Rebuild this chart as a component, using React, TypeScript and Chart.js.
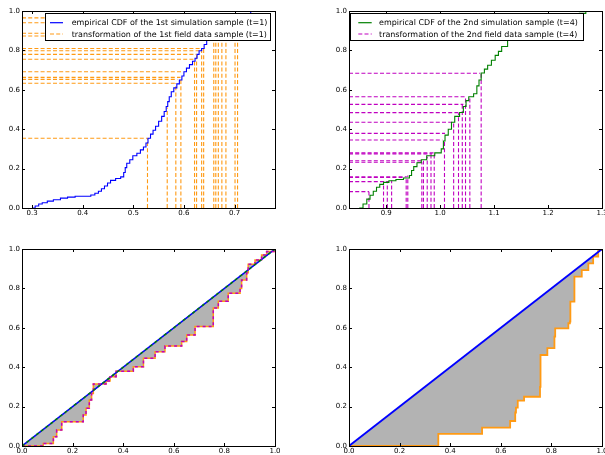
import React, { useEffect, useRef } from "react";
import { Chart, registerables } from "chart.js";

Chart.register(...registerables);

const FONT = "'DejaVu Sans', sans-serif";
const BLUE = "#0000ff";
const ORANGE = "#ff9a14";
const GREEN = "#008000";
const MAGENTA = "#c000c0";
const GRAY = "#b3b3b3";

// ---------------- Top-left: 1st simulation sample ECDF + field transformation
const sim1X = [0.300, 0.306, 0.313, 0.320, 0.330, 0.342, 0.356, 0.370, 0.385, 0.416, 0.424, 0.431, 0.437, 0.443, 0.449, 0.455, 0.465, 0.475, 0.481, 0.484, 0.487, 0.493, 0.499, 0.507, 0.514, 0.520, 0.525, 0.529, 0.534, 0.539, 0.544, 0.550, 0.556, 0.561, 0.565, 0.568, 0.571, 0.575, 0.580, 0.586, 0.591, 0.596, 0.600, 0.605, 0.611, 0.617, 0.622, 0.626, 0.630, 0.635, 0.640, 0.645, 0.652, 0.662, 0.675, 0.690, 0.705, 0.720, 0.732, 0.742];
const sim1Y = [0.000, 0.010, 0.020, 0.027, 0.035, 0.042, 0.050, 0.055, 0.060, 0.066, 0.075, 0.085, 0.098, 0.112, 0.127, 0.140, 0.150, 0.158, 0.180, 0.205, 0.227, 0.245, 0.265, 0.278, 0.295, 0.310, 0.330, 0.354, 0.375, 0.395, 0.415, 0.440, 0.465, 0.490, 0.515, 0.540, 0.565, 0.590, 0.610, 0.630, 0.650, 0.670, 0.692, 0.710, 0.728, 0.745, 0.760, 0.780, 0.798, 0.810, 0.830, 0.850, 0.870, 0.890, 0.910, 0.935, 0.960, 0.980, 1.000, 1.000];
const field1VertX = [0.528, 0.567, 0.584, 0.594, 0.621, 0.625, 0.635, 0.639, 0.659, 0.663, 0.668, 0.675, 0.683, 0.701, 0.706];
const field1VertTop = [0.354, 0.510, 0.633, 0.663, 0.755, 0.780, 0.810, 0.820, 0.880, 0.890, 0.900, 0.910, 0.930, 0.960, 0.970];
const field1HorizY = [0.354, 0.633, 0.653, 0.663, 0.692, 0.755, 0.780, 0.798, 0.810, 0.873, 0.887, 0.940, 0.965];
const field1HorizEnd = [0.528, 0.582, 0.587, 0.593, 0.598, 0.621, 0.625, 0.630, 0.635, 0.659, 0.663, 0.690, 0.706];
const tlXRange = [0.28, 0.78];
const tlXTicks = [0.3, 0.4, 0.5, 0.6, 0.7];
const tlLegend = ["empirical CDF of the 1st simulation sample (t=1)", "transformation of the 1st field data sample (t=1)"];

// ---------------- Top-right: 2nd simulation sample ECDF + field transformation
const sim2X = [0.850, 0.857, 0.864, 0.870, 0.876, 0.882, 0.888, 0.895, 0.905, 0.918, 0.932, 0.943, 0.947, 0.951, 0.957, 0.965, 0.975, 0.990, 1.002, 1.006, 1.009, 1.015, 1.021, 1.027, 1.036, 1.043, 1.048, 1.053, 1.062, 1.068, 1.072, 1.076, 1.082, 1.088, 1.095, 1.102, 1.108, 1.114, 1.125, 1.140, 1.160, 1.190, 1.220, 1.246, 1.258, 1.270];
const sim2Y = [0.000, 0.020, 0.045, 0.065, 0.085, 0.105, 0.120, 0.130, 0.138, 0.145, 0.152, 0.165, 0.190, 0.210, 0.230, 0.245, 0.265, 0.280, 0.300, 0.340, 0.370, 0.400, 0.435, 0.465, 0.485, 0.515, 0.545, 0.565, 0.580, 0.620, 0.650, 0.685, 0.705, 0.725, 0.750, 0.775, 0.795, 0.820, 0.850, 0.880, 0.905, 0.930, 0.955, 0.975, 0.988, 1.000];
const field2VertX = [0.868, 0.895, 0.902, 0.910, 0.937, 0.940, 0.966, 0.969, 0.976, 0.983, 0.989, 1.008, 1.025, 1.034, 1.041, 1.047, 1.055, 1.076];
const field2VertTop = [0.083, 0.130, 0.134, 0.139, 0.159, 0.165, 0.232, 0.240, 0.260, 0.275, 0.280, 0.345, 0.435, 0.481, 0.526, 0.565, 0.565, 0.684];
const field2HorizY = [0.684, 0.565, 0.526, 0.484, 0.435, 0.379, 0.345, 0.280, 0.275, 0.240, 0.232, 0.159, 0.155, 0.134, 0.083];
const field2HorizEnd = [1.074, 1.047, 1.043, 1.038, 1.025, 1.009, 1.004, 0.988, 0.985, 0.969, 0.966, 0.938, 0.935, 0.905, 0.868];
const trXRange = [0.831, 1.3];
const trXTicks = [0.9, 1.0, 1.1, 1.2, 1.3];
const trLegend = ["empirical CDF of the 2nd simulation sample (t=4)", "transformation of the 2nd field data sample (t=4)"];

// ---------------- Bottom-left: PIT curve of the 1st comparison
const pit1X = [0.000, 0.084, 0.124, 0.137, 0.157, 0.242, 0.253, 0.266, 0.275, 0.282, 0.332, 0.348, 0.372, 0.440, 0.480, 0.526, 0.565, 0.631, 0.651, 0.684, 0.756, 0.776, 0.815, 0.862, 0.868, 0.888, 0.894, 0.921, 0.947, 0.967, 1.000];
const pit1Y = [0.000, 0.013, 0.047, 0.081, 0.123, 0.157, 0.191, 0.234, 0.267, 0.315, 0.330, 0.352, 0.380, 0.402, 0.445, 0.479, 0.507, 0.530, 0.563, 0.606, 0.700, 0.735, 0.775, 0.800, 0.843, 0.880, 0.922, 0.944, 0.970, 0.987, 1.000];

// ---------------- Bottom-right: PIT curve of the 2nd comparison
const pit2X = [0.000, 0.353, 0.526, 0.637, 0.657, 0.660, 0.667, 0.692, 0.755, 0.757, 0.784, 0.812, 0.815, 0.867, 0.873, 0.875, 0.891, 0.920, 0.946, 0.965, 0.985, 1.000];
const pit2Y = [0.000, 0.062, 0.093, 0.127, 0.170, 0.195, 0.230, 0.250, 0.300, 0.462, 0.497, 0.555, 0.597, 0.623, 0.632, 0.733, 0.860, 0.893, 0.927, 0.962, 0.995, 1.000];

const diagX = [0, 1];
const diagY = [0, 1];
const unitTicks = [0, 0.2, 0.4, 0.6, 0.8, 1.0];

// ---------------- helpers
const pts = (xs: number[], ys: number[]) => xs.map((x, i) => ({ x, y: ys[i] }));

function guideDatasets(vx: number[], vTop: number[], hy: number[], hEnd: number[], xMin: number, color: string) {
  const common = { borderColor: color, borderDash: [4, 2.2], borderWidth: 1.1, pointRadius: 0, fill: false };
  const ds: any[] = [];
  vx.forEach((x, i) => ds.push({ ...common, data: [{ x, y: 0 }, { x, y: vTop[i] }] }));
  hy.forEach((y, i) => ds.push({ ...common, data: [{ x: xMin, y }, { x: hEnd[i], y }] }));
  return ds;
}

const framePlugin = {
  id: "frame",
  afterDraw(chart: any) {
    const { ctx, chartArea: a, scales } = chart;
    ctx.save();
    ctx.strokeStyle = "#000";
    ctx.lineWidth = 1;
    ctx.strokeRect(Math.round(a.left) + 0.5, Math.round(a.top) + 0.5, Math.round(a.right - a.left), Math.round(a.bottom - a.top));
    const L = 3;
    ctx.beginPath();
    scales.x.ticks.forEach((t: any) => {
      const px = Math.round(scales.x.getPixelForValue(t.value)) + 0.5;
      ctx.moveTo(px, a.bottom);
      ctx.lineTo(px, a.bottom - L);
      ctx.moveTo(px, a.top);
      ctx.lineTo(px, a.top + L);
    });
    scales.y.ticks.forEach((t: any) => {
      const py = Math.round(scales.y.getPixelForValue(t.value)) + 0.5;
      ctx.moveTo(a.left, py);
      ctx.lineTo(a.left + L, py);
      ctx.moveTo(a.right, py);
      ctx.lineTo(a.right - L, py);
    });
    ctx.stroke();
    ctx.restore();
  },
};

function legendPlugin(entries: { label: string; color: string; dash: number[]; width: number }[], box: any) {
  return {
    id: "legendBox",
    afterDatasetsDraw(chart: any) {
      const { ctx, chartArea: a } = chart;
      const x0 = Math.round(a.left + box.dx);
      const y0 = Math.round(a.top + box.dy);
      ctx.save();
      ctx.fillStyle = "#fff";
      ctx.fillRect(x0, y0, box.w, box.h);
      ctx.strokeStyle = "#000";
      ctx.lineWidth = 1;
      ctx.strokeRect(x0 + 0.5, y0 + 0.5, box.w - 1, box.h - 1);
      ctx.font = `10px ${FONT}`;
      const w10 = Math.max(...entries.map((e) => ctx.measureText(e.label).width));
      const size = (10 * box.textW) / w10;
      entries.forEach((e, i) => {
        const yy = y0 + box.rows[i];
        ctx.beginPath();
        ctx.setLineDash(e.dash);
        ctx.strokeStyle = e.color;
        ctx.lineWidth = e.width;
        ctx.moveTo(x0 + box.lineX0, yy);
        ctx.lineTo(x0 + box.lineX1, yy);
        ctx.stroke();
        ctx.setLineDash([]);
        ctx.fillStyle = "#000";
        ctx.font = `${size.toFixed(2)}px ${FONT}`;
        ctx.textBaseline = "middle";
        ctx.textAlign = "left";
        ctx.fillText(e.label, x0 + box.textX, yy + 0.5);
      });
      ctx.restore();
    },
  };
}

function makeConfig(p: {
  datasets: any[];
  xRange: number[];
  xTicks: number[];
  yWidth: number;
  xHeight: number;
  top: number;
  right: number;
  plugins: any[];
}) {
  const tickFont = { size: 7, family: FONT };
  const zeroPad = (s: any) => {
    s.paddingLeft = 0;
    s.paddingRight = 0;
    s.paddingTop = 0;
    s.paddingBottom = 0;
  };
  return {
    type: "line",
    data: { datasets: p.datasets },
    plugins: [...p.plugins, framePlugin],
    options: {
      animation: false,
      responsive: false,
      devicePixelRatio: 1,
      parsing: true,
      layout: { padding: { left: 0, top: p.top, right: p.right, bottom: 0 } },
      elements: { point: { radius: 0 }, line: { tension: 0 } },
      plugins: { legend: { display: false }, tooltip: { enabled: false }, title: { display: false } },
      scales: {
        x: {
          type: "linear",
          min: p.xRange[0],
          max: p.xRange[1],
          grid: { display: false, drawTicks: false },
          border: { display: false },
          ticks: { autoSkip: false, maxRotation: 0, padding: 1, font: tickFont, color: "#000", callback: (v: any) => Number(v).toFixed(1) },
          afterBuildTicks: (s: any) => {
            s.ticks = p.xTicks.map((v) => ({ value: v }));
          },
          afterFit: (s: any) => {
            s.height = p.xHeight;
            zeroPad(s);
          },
        },
        y: {
          type: "linear",
          min: 0,
          max: 1,
          grid: { display: false, drawTicks: false },
          border: { display: false },
          ticks: { autoSkip: false, padding: 2, font: tickFont, color: "#000", callback: (v: any) => Number(v).toFixed(1) },
          afterBuildTicks: (s: any) => {
            s.ticks = unitTicks.map((v) => ({ value: v }));
          },
          afterFit: (s: any) => {
            s.width = p.yWidth;
            zeroPad(s);
          },
        },
      },
    },
  };
}

// ---------------- chart configs
function topLeftConfig() {
  const datasets = [
    { data: pts(sim1X, sim1Y), borderColor: BLUE, borderWidth: 1.1, stepped: true, pointRadius: 0, fill: false },
    ...guideDatasets(field1VertX, field1VertTop, field1HorizY, field1HorizEnd, tlXRange[0], ORANGE),
  ];
  const legend = legendPlugin(
    [
      { label: tlLegend[0], color: BLUE, dash: [], width: 1.2 },
      { label: tlLegend[1], color: ORANGE, dash: [4, 2.2], width: 1.2 },
    ],
    { dx: 23, dy: 2, w: 226, h: 28, rows: [9.7, 21], lineX0: 5, lineX1: 18, textX: 26.7, textW: 196 }
  );
  return makeConfig({ datasets, xRange: tlXRange, xTicks: tlXTicks, yWidth: 22, xHeight: 20, top: 11, right: 27, plugins: [legend] });
}

function topRightConfig() {
  const datasets = [
    { data: pts(sim2X, sim2Y), borderColor: GREEN, borderWidth: 1.1, stepped: true, pointRadius: 0, fill: false },
    ...guideDatasets(field2VertX, field2VertTop, field2HorizY, field2HorizEnd, trXRange[0], MAGENTA),
  ];
  const legend = legendPlugin(
    [
      { label: trLegend[0], color: GREEN, dash: [], width: 1.2 },
      { label: trLegend[1], color: MAGENTA, dash: [4, 2.2], width: 1.2 },
    ],
    { dx: 1, dy: 2, w: 234, h: 28, rows: [9.7, 21], lineX0: 8.3, lineX1: 21.7, textX: 29, textW: 199 }
  );
  return makeConfig({ datasets, xRange: trXRange, xTicks: trXTicks, yWidth: 47, xHeight: 20, top: 11, right: 3, plugins: [legend] });
}

function bottomLeftConfig() {
  const datasets = [
    { data: pts(diagX, diagY), borderColor: GREEN, borderDash: [3, 3], borderWidth: 1.5, pointRadius: 0, fill: false },
    { data: pts(pit1X, pit1Y), borderColor: MAGENTA, borderDash: [3, 3], borderWidth: 1.5, stepped: true, pointRadius: 0, fill: false },
    { data: pts(diagX, diagY), borderColor: BLUE, borderWidth: 1.5, pointRadius: 0, fill: false },
    { data: pts(pit1X, pit1Y), borderColor: ORANGE, borderWidth: 1.5, stepped: true, pointRadius: 0, fill: { target: 2 }, backgroundColor: GRAY },
  ];
  return makeConfig({ datasets, xRange: [0, 1], xTicks: unitTicks, yWidth: 22, xHeight: 9, top: 21, right: 27, plugins: [] });
}

function bottomRightConfig() {
  const datasets = [
    { data: pts(diagX, diagY), borderColor: BLUE, borderWidth: 1.8, pointRadius: 0, fill: false },
    { data: pts(pit2X, pit2Y), borderColor: ORANGE, borderWidth: 1.8, stepped: true, pointRadius: 0, fill: { target: 0 }, backgroundColor: GRAY },
  ];
  return makeConfig({ datasets, xRange: [0, 1], xTicks: unitTicks, yWidth: 47, xHeight: 9, top: 21, right: 3, plugins: [] });
}

function Panel({ left, top, width, height, build }: { left: number; top: number; width: number; height: number; build: () => any }) {
  const ref = useRef<HTMLCanvasElement>(null);
  useEffect(() => {
    const chart = new Chart(ref.current as HTMLCanvasElement, build());
    return () => chart.destroy();
  }, []);
  return <canvas ref={ref} width={width} height={height} style={{ position: "absolute", left, top, width, height, display: "block" }} />;
}

export default function App() {
  return (
    <div style={{ position: "fixed", left: 0, top: 0, width: 605, height: 455, background: "#fff", overflow: "hidden" }}>
      <Panel left={0} top={0} width={302} height={228} build={topLeftConfig} />
      <Panel left={302} top={0} width={303} height={228} build={topRightConfig} />
      <Panel left={0} top={228} width={302} height={227} build={bottomLeftConfig} />
      <Panel left={302} top={228} width={303} height={227} build={bottomRightConfig} />
    </div>
  );
}
